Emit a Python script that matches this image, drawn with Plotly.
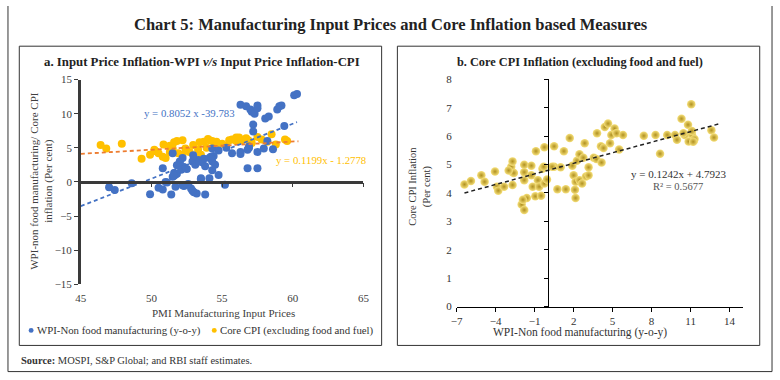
import plotly.graph_objects as go

W, H = 780, 380
FONT = "Liberation Serif"

# ---------------- data: panel a ----------------
pmi_wpi = [47.0, 47.4, 48.6, 49.9, 50.5, 50.8, 51.1, 51.4, 51.7, 50.8, 51.5, 51.6, 51.8, 51.8, 51.5,
           52.0, 52.2, 52.3, 52.1, 52.5, 52.3, 52.6, 52.8, 53.0, 53.2, 52.9, 53.1, 53.3, 53.6, 53.8,
           52.95, 53.7, 53.5, 53.8, 54.1, 54.3, 54.3, 54.5, 54.1, 54.4, 54.75, 55.2, 54.3, 54.75, 55.7,
           55.3, 56.3, 56.8, 56.9, 57.5, 56.8, 57.5, 56.3, 56.7, 57.0, 57.1, 57.3, 57.5, 57.5, 57.2,
           57.2, 58.05, 58.3, 58.9, 59.05, 59.2, 59.4, 58.6, 58.2, 60.1, 60.3, 57.95, 52.0, 53.4, 54.2,
           51.0, 52.2, 52.9, 53.5, 51.7, 51.6, 56.3, 56.9]
wpi_nonfood = [-0.8, -1.2, -0.2, -1.8, -0.85, -1.1, -0.1, -1.85, -0.7, 2.0, 0.75, 1.3, 1.2, 2.45, 4.2,
               3.0, 3.5, 2.2, 1.8, 1.9, -0.6, -0.3, -0.95, -1.5, -1.7, 3.0, 2.5, 3.2, 2.9, 2.3,
               3.9, 3.4, 0.55, -1.85, 0.55, 1.7, 3.0, 2.5, 3.5, 3.8, 1.0, -0.4, 4.9, 4.6, 4.2,
               5.0, 4.1, 4.7, 5.2, 4.4, 2.0, 2.0, 11.3, 11.1, 10.6, 10.3, 10.0, 11.2, 10.8, 8.4,
               7.4, 9.3, 9.6, 10.6, 11.1, 11.2, 8.2, 4.8, 6.0, 12.7, 12.9, 4.9, 2.8, 3.0, 3.7,
               0.0, -0.5, -1.3, 0.4, 1.1, 0.9, 4.4, 5.0]

pmi_core = [46.4, 46.8, 47.9, 49.3, 49.9, 50.2, 50.8, 50.85, 51.3, 51.8, 52.2, 51.3, 51.5, 51.9, 52.4,
            52.7, 52.95, 53.3, 53.5, 53.9, 53.7, 54.1, 54.5, 54.6, 55.0, 55.5, 55.7, 56.0, 56.2, 56.4,
            56.7, 56.85, 57.1, 57.5, 57.8, 58.2, 58.5, 59.45, 59.6, 50.5, 51.0, 52.2, 51.6, 53.4, 54.0,
            54.3, 50.3, 55.3, 58.8, 56.0]
core_cpi_a = [5.4, 4.9, 5.6, 3.4, 4.0, 4.7, 3.7, 5.5, 5.3, 6.0, 6.1, 4.4, 4.9, 4.2, 4.9,
              4.4, 5.4, 4.7, 4.0, 5.0, 5.9, 6.1, 5.3, 5.9, 5.6, 6.1, 6.2, 6.5, 6.5, 6.1,
              6.4, 6.1, 5.7, 6.6, 6.2, 5.9, 7.0, 6.2, 6.0, 4.2, 3.5, 4.0, 5.8, 5.8, 6.3,
              6.0, 4.5, 5.3, 5.5, 6.0]

slope_wpi, icpt_wpi = 0.8052, -39.783
slope_cpi, icpt_cpi = 0.1199, -1.2778
trend_x_wpi = [45, 60.3]
trend_x_cpi = [45, 60.4]

# ---------------- data: panel b ----------------
wpi_b = [-6.4, -5.9, -5.1, -4.85, -4.05, -3.9, -3.8, -3.35, -2.7, -2.7, -2.8, -2.7, -2.6, -2.0, -1.8,
         -1.6, -1.8, -1.8, -1.8, -1.25, -1.25, -1.15, -0.95, -0.9, -0.75, -0.65, -0.5, -0.4, -0.25, -0.3,
         -0.25, -0.05, 0.5, 0.5, 0.75, 1.0, 1.25, 1.4, 1.7, 1.9, 2.0, 2.15, 2.1, 2.15, 2.25,
         2.45, 2.45, 2.65, 2.75, 2.85, 2.95, 3.15, 3.15, 3.55, 3.75, 3.8, 4.1, 4.15, 4.3, 4.4,
         4.65, 4.8, 4.9, 5.15, 5.3, 5.5, 5.8, 7.4, 8.3, 8.65, 9.2, 9.8, 9.95, 10.3, 10.55,
         10.8, 11.05, 11.1, 11.25, 11.3, 12.6, 12.8, 10.85, 11.1, 10.45, 11.2, -3.0, 0.35, -1.9]
core_b = [4.30, 4.42, 4.62, 4.39, 4.75, 4.22, 4.08, 4.22, 4.28, 4.73, 4.92, 5.11, 4.70, 3.59, 3.40,
          3.82, 4.45, 4.99, 4.73, 4.62, 4.96, 4.22, 3.88, 5.47, 4.45, 4.22, 3.90, 4.85, 5.61, 4.92,
          4.33, 4.47, 5.64, 4.92, 4.13, 4.90, 5.47, 4.13, 5.93, 4.96, 4.62, 4.39, 4.11, 3.82, 5.13,
          5.36, 4.45, 4.33, 5.24, 5.75, 4.58, 4.90, 4.62, 5.24, 5.19, 6.10, 5.64, 5.07, 5.58, 6.32,
          6.44, 5.75, 6.04, 6.27, 6.10, 5.53, 6.04, 6.01, 6.04, 5.38, 6.04, 6.04, 5.87, 6.61, 6.04,
          6.40, 7.12, 6.06, 5.84, 5.90, 6.21, 5.95, 5.81, 6.18, 6.10, 5.80, 4.79, 4.92, 3.76]
slope_b, icpt_b = 0.1242, 4.7923
trend_x_b = [-6.4, 13.3]


def PX(p):
    return p / W


def PY(p):
    return 1 - p / H


BLUE = "#4472C4"
ORANGE = "#FFC000"
DARK = "#3a3a3a"

fig = go.Figure()

# panel a
fig.add_trace(go.Scatter(x=pmi_core, y=core_cpi_a, mode="markers", xaxis="x", yaxis="y",
                         marker=dict(color=ORANGE, size=8), showlegend=False, hoverinfo="skip"))
fig.add_trace(go.Scatter(x=pmi_wpi, y=wpi_nonfood, mode="markers", xaxis="x", yaxis="y",
                         marker=dict(color=BLUE, size=8), showlegend=False, hoverinfo="skip"))
fig.add_trace(go.Scatter(x=trend_x_cpi, y=[slope_cpi * v + icpt_cpi for v in trend_x_cpi],
                         mode="lines", xaxis="x3", yaxis="y",
                         line=dict(color="#ED7D31", width=1.8, dash="4px,3px"), showlegend=False))
fig.add_trace(go.Scatter(x=trend_x_wpi, y=[slope_wpi * v + icpt_wpi for v in trend_x_wpi],
                         mode="lines", xaxis="x3", yaxis="y",
                         line=dict(color=BLUE, width=1.8, dash="4px,3px"), showlegend=False))

# panel b
fig.add_trace(go.Scatter(x=wpi_b, y=core_b, mode="markers", xaxis="x2", yaxis="y2",
                         marker=dict(color="#F6E07A", size=8.5,
                                     gradient=dict(type="radial", color="#B0901F"),
                                     line=dict(width=0)),
                         showlegend=False, hoverinfo="skip"))
fig.add_trace(go.Scatter(x=trend_x_b, y=[slope_b * v + icpt_b for v in trend_x_b],
                         mode="lines", xaxis="x2", yaxis="y4",
                         line=dict(color="#222222", width=1.5, dash="4px,3px"), showlegend=False))

tickfont = dict(family=FONT, size=11, color="#404040")
tickfont_b = dict(family=FONT, size=11, color="#333333")

fig.update_layout(
    width=W, height=H, margin=dict(l=0, r=0, t=0, b=0),
    paper_bgcolor="white", plot_bgcolor="rgba(0,0,0,0)",
    font=dict(family=FONT, color="#333333"),
    showlegend=False,
    xaxis=dict(domain=[PX(76), PX(363)], anchor="y", range=[45, 65], tick0=45, dtick=5,
               showline=False, ticks="", showgrid=False, zeroline=False, tickfont=tickfont,
               ticklabelstandoff=6),
    yaxis=dict(domain=[PY(287.3), PY(76)], anchor="x", range=[-15, 15], dtick=5,
               showline=True, linewidth=2.5, linecolor=DARK, ticks="outside", ticklen=4,
               tickcolor=DARK, showgrid=False, zeroline=False, tickfont=tickfont),
    xaxis3=dict(overlaying="x", anchor="free", position=PY(181.3), range=[45, 65], tick0=45,
                dtick=5, showline=True, linewidth=2.5, linecolor=DARK, ticks="outside",
                ticklen=4, tickcolor=DARK, showticklabels=False, showgrid=False, zeroline=False),
    xaxis2=dict(domain=[PX(457.7), PX(748.1)], anchor="y2", range=[-7, 15], tick0=-7, dtick=3,
                showline=True, linewidth=1, linecolor="black", ticks="outside", ticklen=4,
                tickcolor="black", showgrid=False, zeroline=False, tickfont=tickfont_b),
    yaxis2=dict(domain=[PY(310.3), PY(75.7)], anchor="x2", range=[0, 8], dtick=1,
                showline=False, ticks="", showgrid=False, zeroline=False, tickfont=tickfont_b,
                ticklabelstandoff=4),
    yaxis4=dict(overlaying="y2", anchor="free", position=PX(550.1), range=[0, 8], dtick=1,
                showline=True, linewidth=1, linecolor="black", ticks="outside", ticklen=4,
                tickcolor="black", showticklabels=False, showgrid=False, zeroline=False),
)


def ann(text, x, y, size=11, color="#333333", xanchor="center", angle=0, yanchor="middle"):
    fig.add_annotation(text=text, x=PX(x), y=PY(y), xref="paper", yref="paper",
                       showarrow=False, xanchor=xanchor, yanchor=yanchor, textangle=angle,
                       font=dict(family=FONT, size=size, color=color))


ann("<b>Chart 5: Manufacturing Input Prices and Core Inflation based Measures</b>", 391, 19,
    size=16.5, color="#222222")
ann("<b>a. Input Price Inflation-WPI <i>v/s</i> Input Price Inflation-CPI</b>", 199, 58,
    size=12.8, color="#222222")
ann("<b>b. Core CPI Inflation (excluding food and fuel)</b>", 583, 58, size=12.3, color="#222222")

ann("WPI-non food manufacturing/ Core CPI<br>inflation (Per cent)", 36, 180, size=11,
    color="#404040", angle=-90)
ann("PMI Manufacturing Input Prices", 221, 317, size=11, color="#404040")
ann("Core CPI Inflation<br>(Per cent)", 421, 186, size=10.5, color="#333333", angle=-90)
ann("WPI-Non food manufacturing (y-o-y)", 583, 337, size=11.5, color="#333333")

ann("y = 0.8052 x -39.783", 138, 110, size=10.8, color=BLUE, xanchor="left")
ann("y = 0.1199x - 1.2778", 272, 159, size=10.8, color=ORANGE, xanchor="left")
ann("y = 0.1242x + 4.7923", 683, 173, size=11, color="#333333")
ann("R² = 0.5677", 683, 186, size=10.5, color="#555555")

ann("WPI-Non food manufacturing (y-o-y)", 29.5, 335, size=10.8, color="#333333", xanchor="left")
ann("Core CPI (excluding food and fuel)", 215.5, 335, size=10.8, color="#333333", xanchor="left")
ann("<b>Source:</b> MOSPI, S&amp;P Global; and RBI staff estimates.", 13, 366, size=10.5,
    color="#333333", xanchor="left")

shapes = []
# legend dots
for cx, col in [(25.5, BLUE), (211.5, ORANGE)]:
    shapes.append(dict(type="circle", xref="paper", yref="paper", x0=PX(cx - 2.5), x1=PX(cx + 2.5),
                       y0=PY(337.5), y1=PY(332.5), fillcolor=col, line=dict(width=0)))
# panel boxes
for x0, x1 in [(13.5, 381.5), (397.5, 765.5)]:
    shapes.append(dict(type="rect", xref="paper", yref="paper", x0=PX(x0), x1=PX(x1),
                       y0=PY(350.5), y1=PY(41.5), line=dict(color="#333333", width=1)))
# outer frame
shapes.append(dict(type="path", xref="paper", yref="paper",
                   path=f"M {PX(2)} {PY(0)} L {PX(2)} {PY(377.5)} L {PX(778)} {PY(377.5)} L {PX(778)} {PY(0)}",
                   line=dict(color="#333333", width=1)))
fig.update_layout(shapes=shapes)

fig.write_html("out.html", config={"displayModeBar": False},
               post_script="document.body.style.margin='0';")
